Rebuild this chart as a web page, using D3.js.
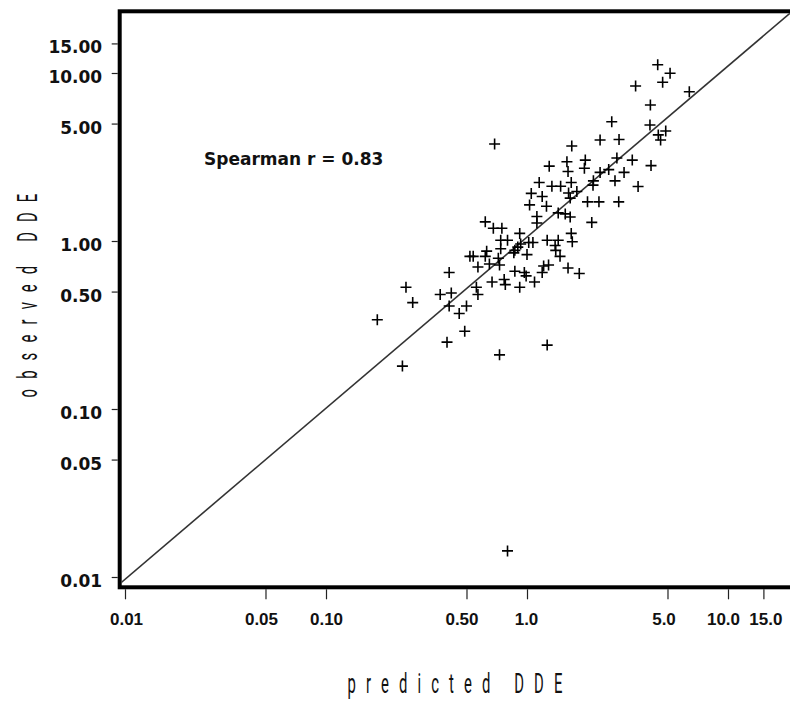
<!DOCTYPE html>
<html>
<head>
  <title>observed vs predicted DDE</title>
  <script src="https://d3js.org/d3.v7.min.js"></script>
  <style>
    body { margin: 0; background: #fff; }
  </style>
</head>
<body>
  <div id="chart"></div>
  <script>
    // values (predicted, observed), same order
    const predicted = [
      4.47, 5.15, 4.73, 3.47, 6.42, 4.11, 2.64, 4.09, 4.90, 4.50,
      4.62, 0.69, 1.67, 2.31, 2.87, 1.29, 1.58, 1.60, 1.95, 1.93,
      2.80, 3.34, 4.14, 2.31, 2.55, 3.04, 2.14, 2.13, 2.74, 3.57,
      1.15, 1.33, 1.47, 1.66, 1.61, 1.77, 1.64, 1.05, 1.19, 1.03,
      1.25, 1.43, 1.55, 1.64, 2.00, 2.28, 2.86, 1.12, 1.12, 2.10,
      0.62, 0.68, 0.75, 0.92, 1.66, 0.74, 0.80, 1.02, 1.07, 1.26,
      1.43, 1.68, 0.87, 0.90, 0.93, 1.38, 1.39, 0.74, 0.63, 0.52,
      0.54, 0.62, 0.72, 0.86, 1.00, 1.46, 0.57, 0.65, 0.73, 0.87,
      0.97, 0.99, 1.19, 1.21, 1.28, 1.60, 1.82, 0.41, 0.67, 0.77,
      0.78, 0.92, 1.09, 0.25, 0.56, 0.27, 0.37, 0.42, 0.57, 0.41,
      0.46, 0.50, 0.18, 0.49, 0.40, 0.73, 1.26, 0.24, 0.80
    ];
    const observed = [
      11.2, 9.96, 8.81, 8.37, 7.74, 6.45, 5.13, 4.90, 4.52, 4.28,
      3.99, 3.78, 3.68, 3.99, 4.02, 2.79, 2.96, 2.59, 3.03, 2.71,
      3.12, 3.03, 2.81, 2.56, 2.66, 2.56, 2.28, 2.15, 2.28, 2.11,
      2.23, 2.12, 2.12, 2.23, 1.93, 1.97, 1.80, 1.92, 1.84, 1.64,
      1.61, 1.47, 1.45, 1.39, 1.71, 1.71, 1.71, 1.40, 1.28, 1.29,
      1.30, 1.19, 1.19, 1.11, 1.11, 1.01, 1.01, 0.98, 0.98, 1.01,
      1.01, 0.99, 0.88, 0.92, 0.96, 0.94, 0.88, 0.90, 0.87, 0.81,
      0.81, 0.81, 0.79, 0.85, 0.83, 0.81, 0.70, 0.73, 0.72, 0.66,
      0.65, 0.62, 0.65, 0.71, 0.72, 0.69, 0.64, 0.65, 0.57, 0.59,
      0.55, 0.53, 0.57, 0.53, 0.53, 0.43, 0.48, 0.49, 0.48, 0.41,
      0.37, 0.41, 0.34, 0.29, 0.25, 0.21, 0.24, 0.18, 0.0143
    ];

    const xTicks = [0.01, 0.05, 0.1, 0.5, 1, 5, 10, 15];
    const xTickLabels = ["0.01", "0.05", "0.10", "0.50", "1.0", "5.0", "10.0", "15.0"];
    const yTicks = [0.01, 0.05, 0.1, 0.5, 1, 5, 10, 15];
    const yTickLabels = ["0.01", "0.05", "0.10", "0.50", "1.00", "5.00", "10.00", "15.00"];

    // reference line end points (predicted, observed)
    const lineX = [0.0094, 21.5];
    const lineY = [0.0091, 24.0];

    const statText = "Spearman r = 0.83";

    const width = 790, height = 704;

    // the x labels are not quite centred under their ticks in the original
    const xLabelShift = [1, -4.5, 0, -5, -1, -4, -5, 2];

    const svg = d3.select("#chart")
                  .append("svg")
                  .attr("width", width)
                  .attr("height", height);

    // frame of the plot area (right side runs off the picture)
    const frame = {left: 119.7, top: 11.3, right: 820, bottom: 587.3};

    const x = d3.scaleLog()
                .domain([0.01, 10])
                .range([125, 728]);

    const y = d3.scaleLog()
                .domain([0.01, 10])
                .range([577, 73]);

    svg.append("clipPath")
       .attr("id", "plotclip")
       .append("rect")
       .attr("x", frame.left + 2)
       .attr("y", frame.top + 2)
       .attr("width", frame.right - frame.left)
       .attr("height", frame.bottom - frame.top - 4);

    // Y axis
    const yAxis = svg.append("g")
       .attr("transform", `translate(${frame.left - 2},0)`)
       .call(d3.axisLeft(y)
               .tickValues(yTicks)
               .tickFormat((d, i) => yTickLabels[i])
               .tickSize(6));
    yAxis.select(".domain").remove();
    yAxis.selectAll(".tick line").attr("stroke", "#222").attr("stroke-width", 1.2);
    yAxis.selectAll(".tick text")
         .attr("x", -15.5)
         .attr("dy", null)
         .attr("y", 9.5)
         .attr("fill", "#111")
         .style("font-family", "'DejaVu Sans', sans-serif")
         .style("font-weight", "bold")
         .style("font-size", "17px");

    // X axis
    const xAxis = svg.append("g")
       .attr("transform", `translate(0,${frame.bottom + 2})`)
       .call(d3.axisBottom(x)
               .tickValues(xTicks)
               .tickFormat((d, i) => xTickLabels[i])
               .tickSize(10));
    xAxis.select(".domain").remove();
    xAxis.selectAll(".tick line").attr("stroke", "#222").attr("stroke-width", 1.2);
    xAxis.selectAll(".tick text")
         .attr("dy", null)
         .attr("y", 36)
         .attr("x", (d, i) => xLabelShift[i])
         .attr("fill", "#111")
         .style("font-family", "'Liberation Sans', Arial, sans-serif")
         .style("font-weight", "bold")
         .style("font-size", "17px");

    const plot = svg.append("g").attr("clip-path", "url(#plotclip)");

    // reference line
    plot.append("line")
        .attr("x1", x(lineX[0]))
        .attr("y1", y(lineY[0]))
        .attr("x2", x(lineX[1]))
        .attr("y2", y(lineY[1]))
        .attr("stroke", "#333")
        .attr("stroke-width", 1.6);

    // points as plus signs
    const pts = predicted.map((p, i) => ({p: p, o: observed[i]}));
    plot.selectAll("path.pt")
        .data(pts)
        .enter()
        .append("path")
        .attr("class", "pt")
        .attr("transform", d => `translate(${x(d.p)},${y(d.o)})`)
        .attr("d", "M-5.5,0H5.5M0,-5.5V5.5")
        .attr("stroke", "#000")
        .attr("stroke-width", 1.6)
        .attr("fill", "none");

    // frame
    svg.append("rect")
       .attr("x", frame.left)
       .attr("y", frame.top)
       .attr("width", frame.right - frame.left)
       .attr("height", frame.bottom - frame.top)
       .attr("fill", "none")
       .attr("stroke", "#000")
       .attr("stroke-width", 4);

    // Spearman annotation
    svg.append("text")
       .attr("x", 204)
       .attr("y", 165)
       .attr("fill", "#111")
       .style("font-family", "'DejaVu Sans', sans-serif")
       .style("font-weight", "bold")
       .style("font-size", "17px")
       .text(statText);

    // axis titles: tall, narrow, widely spaced
    svg.append("text")
       .attr("transform", "translate(460,693) scale(0.55,1)")
       .attr("text-anchor", "middle")
       .attr("fill", "#111")
       .style("font-family", "Roboto, sans-serif")
       .style("font-weight", "400")
       .style("font-size", "27px")
       .style("letter-spacing", "18.4px")
       .text("predicted DDE");

    svg.append("text")
       .attr("transform", "translate(37,290.5) rotate(-90) scale(0.55,1)")
       .attr("text-anchor", "middle")
       .attr("fill", "#111")
       .style("font-family", "Roboto, sans-serif")
       .style("font-weight", "400")
       .style("font-size", "27px")
       .style("letter-spacing", "18.4px")
       .text("observed DDE");
  </script>
</body>
</html>
